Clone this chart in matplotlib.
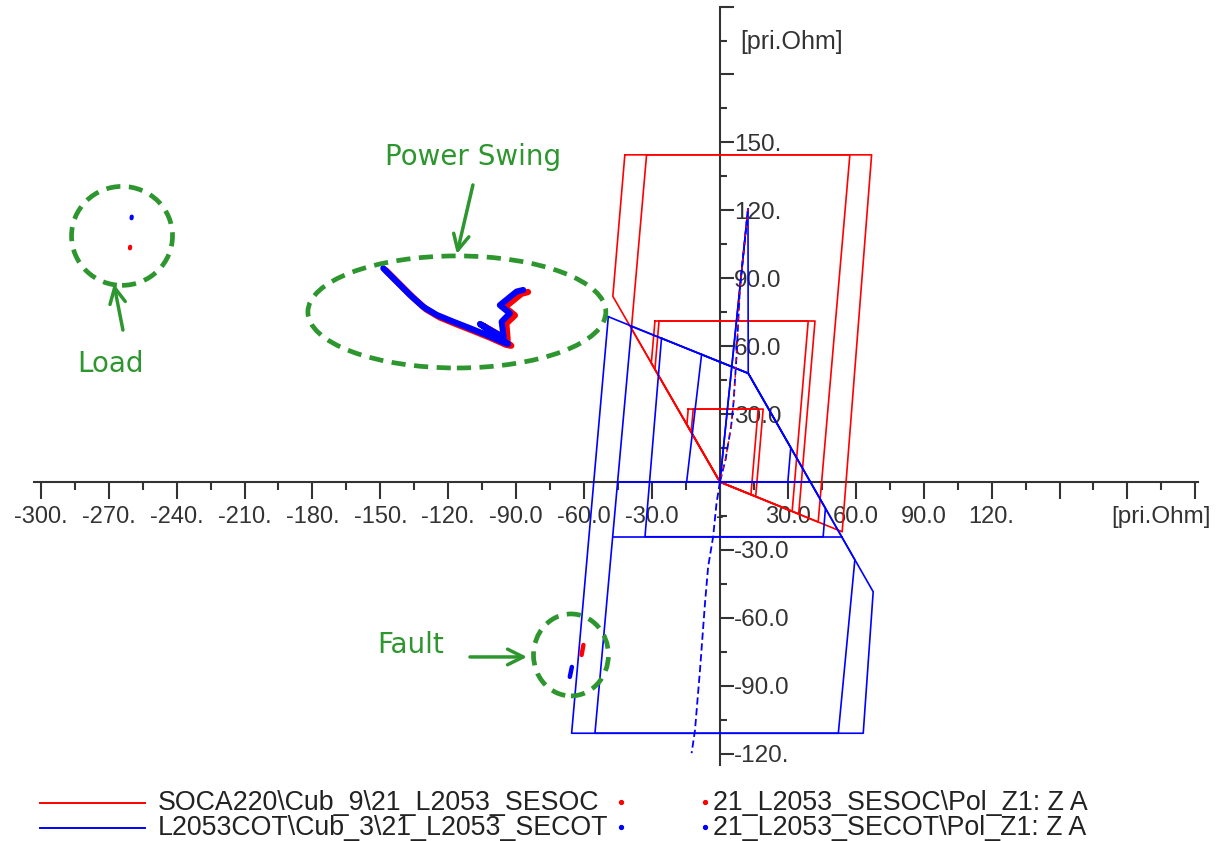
import numpy as np
import matplotlib
matplotlib.use("Agg")
import matplotlib.pyplot as plt
from matplotlib.lines import Line2D
from matplotlib.patches import Ellipse

# --- relay characteristics (R, X in primary ohm) ---
# SOCA220 / 21_L2053_SESOC  (red): three zones, each drawn with two outlines
red_zones = [
    ([-42.0, 67.0, 54.0, 0.0, -47.3, -42.0], [144.5, 144.5, -22.0, 0.0, 82.0, 144.5]),
    ([-32.4, 57.4, 43.4, 0.0, -39.1, -32.4], [144.5, 144.5, -17.7, 0.0, 67.8, 144.5]),
    ([-28.7, 42.0, 34.8, 0.0, -30.3, -28.7], [71.1, 71.1, -14.1, 0.0, 52.5, 71.1]),
    ([-26.9, 39.0, 31.9, 0.0, -28.7, -26.9], [71.1, 71.1, -13.0, 0.0, 49.8, 71.1]),
    ([-14.0, 19.1, 15.8, 0.0, -14.6, -14.0], [32.2, 32.2, -6.4, 0.0, 25.3, 32.2]),
    ([-11.8, 16.9, 13.7, 0.0, -12.7, -11.8], [32.2, 32.2, -5.6, 0.0, 22.0, 32.2]),
]

# L2053COT / 21_L2053_SECOT  (blue)
blue_zones = [
    ([-49.3, 12.5, 67.7, 63.3, -65.5, -49.3], [73.0, 48.0, -48.5, -111.0, -111.0, 73.0]),
    ([-39.0, 12.5, 59.6, 52.3, -55.2, -39.0], [68.7, 48.0, -34.4, -111.0, -111.0, 68.7]),
    ([-25.8, 12.5, 46.6, 45.6, -33.1, -25.8], [63.5, 48.0, -11.6, -24.2, -24.2, 63.5]),
    ([-8.1, 12.5, 31.3, 30.0, -14.7, -8.1], [56.3, 48.0, 15.2, 0.0, 0.0, 56.3]),
    ([-45.2, 40.0], [0.0, 0.0]),
    ([-47.4, 53.8], [-24.2, -24.2]),
    ([0.0, 12.4, 12.5], [0.0, 120.6, 48.0]),
]

# line impedance traces
line_fwd_r = [0.0, 2.5, 5.0, 6.0, 7.3, 8.8, 12.4]
line_fwd_x = [0.0, 10.0, 25.0, 35.0, 55.0, 85.0, 120.6]
line_rev_r = [0.0, -1.5, -3.0, -5.2, -6.6, -8.8, -11.0, -12.5]
line_rev_x = [0.0, -9.4, -24.2, -37.4, -53.6, -83.0, -109.5, -119.8]

# measured impedance Z A during the power swing
swing_blue_r = [-148.7, -142.8, -136.9, -131.1, -125.1, -117.8, -110.4, -103.0, -95.7, -93.6,
                -106.0, -95.5, -96.4, -92.8, -97.2, -89.8, -86.9]
swing_blue_x = [94.4, 88.5, 82.6, 77.4, 73.8, 70.8, 67.9, 64.9, 61.7, 61.0,
                69.8, 63.8, 70.8, 74.5, 78.1, 84.1, 84.8]
swing_red_r = [-147.6, -141.6, -135.6, -129.8, -123.7, -116.4, -109.0, -101.6, -94.4, -92.2,
               -104.6, -93.8, -94.4, -90.6, -95.0, -87.6, -84.8]
swing_red_x = [93.5, 87.5, 81.5, 76.3, 72.7, 69.7, 66.8, 63.8, 60.6, 60.2,
               69.0, 62.8, 70.0, 73.6, 77.2, 83.2, 83.9]

load_r = {"red": [-260.6, -260.5], "blue": [-259.9, -259.8]}
load_x = {"red": [103.2, 103.9], "blue": [116.5, 117.2]}
fault_r = {"red": [-60.3, -61.1], "blue": [-65.4, -66.3]}
fault_x = {"red": [-72.0, -76.4], "blue": [-81.7, -86.1]}

x_ticks = np.arange(-300, 211, 30)
x_labels = ["-300.", "-270.", "-240.", "-210.", "-180.", "-150.", "-120.", "-90.0",
            "-60.0", "-30.0", "-", "30.0", "60.0", "90.0", "120.", "", "", ""]
y_ticks = np.arange(-120, 211, 30)
y_labels = ["-120.", "-90.0", "-60.0", "-30.0", "", "30.0", "60.0", "90.0",
            "120.", "150.", "", ""]

legend_lines = ["SOCA220\\Cub_9\\21_L2053_SESOC", "L2053COT\\Cub_3\\21_L2053_SECOT"]
legend_points = ["21_L2053_SESOC\\Pol_Z1: Z A", "21_L2053_SECOT\\Pol_Z1: Z A"]

RED = "#ff0000"
BLUE = "#0000ff"
GREEN = "#2e962e"
AXC = "#333333"
W, H = 1225, 841

plt.rcParams["font.family"] = ["Liberation Sans", "DejaVu Sans"]

fig = plt.figure(figsize=(W / 100, H / 100), dpi=100)
ax = fig.add_axes([0, 0, 1, 1])
ax.set_xlim(-318.0, 223.1)
ax.set_ylim(-158.6, 212.9)

for r, x in red_zones:
    ax.plot(r, x, color=RED, lw=1.2, zorder=3)
for r, x in blue_zones:
    ax.plot(r, x, color=BLUE, lw=1.2, zorder=3)

ax.plot([0.0, 12.4], [0.0, 120.6], color=BLUE, lw=1.2, zorder=3)
ax.plot(line_fwd_r, line_fwd_x, color=BLUE, lw=1.3, ls=(0, (4, 2)), zorder=4)
ax.plot(line_fwd_r, line_fwd_x, color=RED, lw=1.0, ls=(2, (2, 4)), zorder=5)
ax.plot(line_rev_r, line_rev_x, color=BLUE, lw=1.3, ls=(0, (4, 2)), zorder=4)

# trajectories
ax.plot(swing_red_r, swing_red_x, color=RED, lw=4.6, solid_capstyle="round",
        solid_joinstyle="round", zorder=5)
ax.plot(swing_blue_r, swing_blue_x, color=BLUE, lw=4.4, solid_capstyle="round",
        solid_joinstyle="round", zorder=6)
for c, col in (("red", RED), ("blue", BLUE)):
    ax.plot(load_r[c], load_x[c], color=col, lw=3.0, solid_capstyle="round", zorder=6)
    ax.plot(fault_r[c], fault_x[c], color=col, lw=3.2, solid_capstyle="round", zorder=6)

# axes through the origin
for s in ("left", "top"):
    ax.spines[s].set_visible(False)
ax.spines["bottom"].set_position(("data", 0))
ax.spines["bottom"].set_bounds(-303, 211)
ax.spines["right"].set_position(("data", 0))
ax.spines["right"].set_bounds(-125, 210)
for s in ("bottom", "right"):
    ax.spines[s].set_color(AXC)
    ax.spines[s].set_linewidth(1.5)
    ax.spines[s].set_zorder(2)
ax.yaxis.tick_right()
ax.xaxis.tick_bottom()

ax.set_xticks(x_ticks)
ax.set_xticklabels(x_labels)
ax.set_xticks(np.arange(-285, 211, 30), minor=True)
ax.set_yticks(y_ticks)
ax.set_yticklabels(y_labels)
ax.set_yticks(np.arange(-105, 211, 30), minor=True)
ax.tick_params(axis="x", which="major", direction="out", length=12.5, width=1.5,
               color=AXC, labelcolor=AXC, labelsize=17, pad=5)
ax.tick_params(axis="x", which="minor", direction="out", length=6, width=1.5, color=AXC)
ax.tick_params(axis="y", which="major", direction="out", length=10, width=1.5,
               color=AXC, labelcolor=AXC, labelsize=17.5, pad=0)
ax.tick_params(axis="y", which="minor", direction="out", length=5, width=1.5, color=AXC)

ax.text(195.0, -15.5, "[pri.Ohm]", ha="center", va="center", fontsize=17.5, color=AXC)
ax.text(9.0, 194.3, "[pri.Ohm]", ha="left", va="center", fontsize=18, color=AXC)

# annotations
ann_font = dict(color=GREEN, fontsize=20, family="DejaVu Sans", ha="center", va="center")
for (cx, cy, w, h) in [(-264.1, 108.7, 44.6, 43.7), (-116.2, 75.1, 131.6, 49.5),
                       (-65.8, -76.4, 33.1, 36.2)]:
    ax.add_patch(Ellipse((cx, cy), w, h, fill=False, ec=GREEN, lw=3.4,
                         ls=(0, (3.0, 1.8)), zorder=7))

ax.text(-109.1, 143.6, "Power Swing", **ann_font)
ax.text(-269.0, 52.1, "Load", **ann_font)
ax.text(-136.5, -72.0, "Fault", **ann_font)
arrow = dict(arrowstyle="->", color=GREEN, lw=2.5, mutation_scale=28, shrinkA=0, shrinkB=0)
ax.annotate("", xy=(-116.2, 100.7), xytext=(-109.1, 131.2), arrowprops=arrow)
ax.annotate("", xy=(-267.7, 87.5), xytext=(-263.7, 67.1), arrowprops=arrow)
ax.annotate("", xy=(-85.2, -77.3), xytext=(-110.4, -77.3), arrowprops=arrow)

# legend below the diagram
for i, (col, name, pname) in enumerate(zip((RED, BLUE), legend_lines, legend_points)):
    yy = 1 - (803 + 25 * i) / H
    fig.add_artist(Line2D([40 / W, 145 / W], [yy, yy], color=col, lw=1.4))
    fig.text(158 / W, yy, name, fontsize=19.3, color="#222222", va="center", ha="left")
    fig.add_artist(Line2D([621 / W], [yy + 1 / H], marker="o", ms=2.8, color=col, lw=0))
    fig.add_artist(Line2D([705 / W], [yy + 1 / H], marker="o", ms=2.8, color=col, lw=0))
    fig.text(713 / W, yy, pname, fontsize=19.3, color="#222222", va="center", ha="left")

fig.savefig("out.png", dpi=100, facecolor="white")
